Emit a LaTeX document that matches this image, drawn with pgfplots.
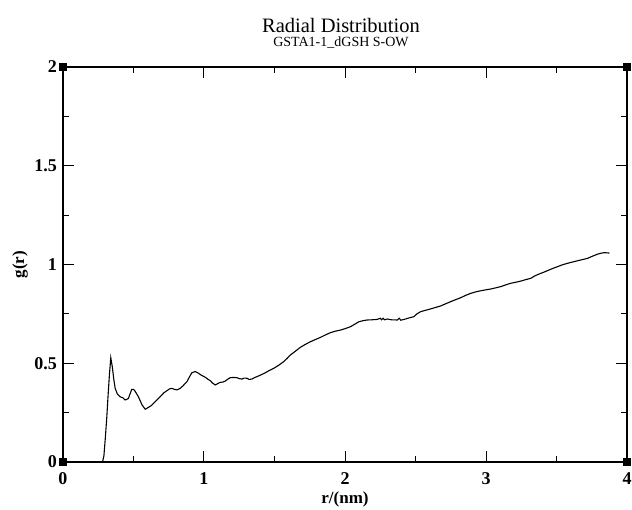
\documentclass[border=0pt]{standalone}
\usepackage{pgfplots}
\pgfplotsset{compat=1.18}
\usepackage{fontspec}
\setmainfont{Liberation Serif}
\begin{document}
\begin{tikzpicture}
\begin{axis}[
  at={(0pt,0pt)}, anchor=south west,
  scale only axis, width=564pt, height=395pt,
  xmin=0, xmax=4, ymin=0, ymax=2,
  xtick={0,1,2,3,4}, ytick={0,0.5,1,1.5,2},
  minor x tick num=1, minor y tick num=1,
  tick align=inside,
  major tick length=11pt, minor tick length=5.7pt,
  axis line style={line width=1.3pt},
  every tick/.style={black, line width=1pt},
  /pgf/number format/assume math mode=true,
  tick label style={font=\fontsize{18}{18}\selectfont\bfseries, inner sep=0pt},
  xticklabel style={yshift=-10pt},
  yticklabel style={xshift=-6pt},
  clip=false,
]
\addplot[black, line width=1.1pt] coordinates {
(0,0) (0.28,0) (0.29,0.03) (0.30,0.12) (0.31,0.22) (0.32,0.34) (0.33,0.45)
(0.339,0.528) (0.35,0.48) (0.36,0.42) (0.37,0.373) (0.385,0.345) (0.405,0.33)
(0.425,0.325) (0.44,0.314) (0.455,0.318) (0.464,0.322) (0.478,0.35) (0.488,0.368)
(0.5,0.368) (0.51,0.36) (0.535,0.33) (0.56,0.29) (0.583,0.267) (0.607,0.277)
(0.625,0.285) (0.642,0.297) (0.665,0.313) (0.689,0.33) (0.715,0.35) (0.737,0.361)
(0.755,0.37) (0.772,0.373) (0.79,0.368) (0.808,0.365) (0.831,0.373) (0.85,0.385)
(0.879,0.407) (0.9,0.435) (0.914,0.452) (0.938,0.458) (0.962,0.449) (0.98,0.44)
(1.009,0.429) (1.03,0.418) (1.044,0.412) (1.06,0.4) (1.08,0.39) (1.1,0.398)
(1.115,0.403) (1.135,0.405) (1.151,0.41) (1.17,0.42) (1.186,0.427) (1.21,0.428)
(1.233,0.427) (1.25,0.422) (1.269,0.42) (1.285,0.425) (1.304,0.424) (1.32,0.418)
(1.34,0.42) (1.36,0.428) (1.376,0.432) (1.40,0.44) (1.43,0.45) (1.46,0.462)
(1.494,0.474) (1.53,0.49) (1.565,0.508) (1.59,0.525) (1.613,0.542) (1.65,0.562)
(1.684,0.581) (1.72,0.596) (1.755,0.609) (1.79,0.62) (1.826,0.631) (1.86,0.643)
(1.897,0.655) (1.93,0.662) (1.968,0.668) (2.0,0.675) (2.039,0.685) (2.07,0.698)
(2.098,0.71) (2.13,0.716) (2.158,0.719) (2.19,0.72) (2.229,0.722) (2.25,0.728)
(2.26,0.72) (2.27,0.728) (2.28,0.72) (2.30,0.724) (2.33,0.72) (2.371,0.719)
(2.385,0.728) (2.395,0.718) (2.42,0.722) (2.442,0.727) (2.489,0.736) (2.51,0.75)
(2.536,0.761) (2.57,0.768) (2.607,0.775) (2.64,0.782) (2.678,0.79) (2.71,0.8)
(2.75,0.812) (2.785,0.822) (2.821,0.832) (2.86,0.845) (2.892,0.854) (2.93,0.862)
(2.963,0.867) (3.0,0.872) (3.034,0.876) (3.07,0.882) (3.105,0.888) (3.14,0.897)
(3.176,0.905) (3.21,0.91) (3.247,0.916) (3.28,0.923) (3.318,0.93) (3.345,0.942)
(3.377,0.952) (3.41,0.961) (3.436,0.969) (3.47,0.979) (3.507,0.989) (3.54,0.998)
(3.578,1.006) (3.61,1.012) (3.65,1.019) (3.685,1.025) (3.72,1.031) (3.755,1.042)
(3.79,1.052) (3.815,1.057) (3.839,1.06) (3.875,1.058)
};
\addplot[only marks, mark=square*, mark size=3.5pt, black] coordinates {(0,0) (4,0) (0,2) (4,2)};
\end{axis}
\node[anchor=base, font=\fontsize{20.5}{20.5}\selectfont] at (278pt,429pt) {Radial Distribution};
\node[anchor=base, font=\fontsize{14}{14}\selectfont] at (278pt,415pt) {GSTA1-1\_dGSH S-OW};
\node[anchor=base, font=\fontsize{17}{17}\selectfont\bfseries] at (282pt,-41pt) {r/(nm)};
\node[rotate=90, font=\fontsize{17}{17}\selectfont\bfseries] at (-43pt,197.5pt) {g(r)};
\pgfresetboundingbox
\path (-63pt,-47pt) rectangle (569pt,462pt);
\end{tikzpicture}
\end{document}
